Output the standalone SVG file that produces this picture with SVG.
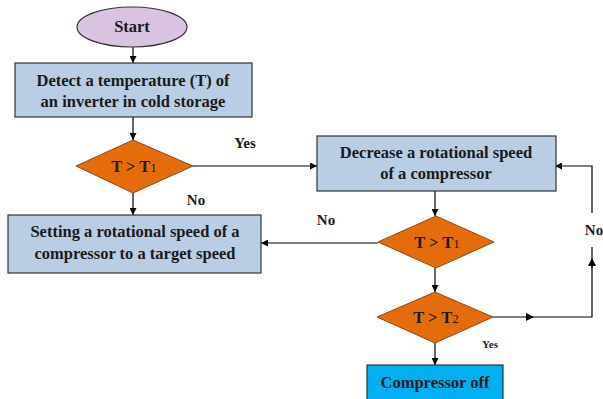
<svg xmlns="http://www.w3.org/2000/svg" width="603" height="399" viewBox="0 0 603 399">
<defs>
<marker id="ah" viewBox="0 0 10 10" refX="10" refY="5" markerWidth="7" markerHeight="7" orient="auto" markerUnits="userSpaceOnUse">
<path d="M0,0 L10,5 L0,10 z" fill="#000"/>
</marker>
<marker id="mid" viewBox="0 0 10 10" refX="5" refY="5" markerWidth="8" markerHeight="8" orient="auto" markerUnits="userSpaceOnUse">
<path d="M0,0 L10,5 L0,10 z" fill="#000"/>
</marker>
<style>
.box{fill:#b9cde5;stroke:#333;stroke-width:1.2}
.dia{fill:#e46c0a;stroke:#8a4a1a;stroke-width:1}
.t{font-family:"Liberation Serif","Times New Roman",serif;font-weight:bold;font-size:16.5px;fill:#1a1a1a;text-anchor:middle}
.lbl{font-family:"Liberation Serif","Times New Roman",serif;font-weight:bold;font-size:15px;fill:#1a1a1a;text-anchor:middle}
.sub{font-size:13px;font-weight:normal}
.c{fill:none;stroke:#000;stroke-width:1.2}
</style>
</defs>
<rect width="603" height="399" fill="#fff"/>
<g id="connectors">
<line class="c" x1="133" y1="47" x2="133" y2="63" marker-end="url(#ah)"/>
<line class="c" x1="133" y1="117" x2="133" y2="140" marker-end="url(#ah)"/>
<line class="c" x1="193" y1="166" x2="317" y2="166" marker-end="url(#ah)"/>
<line class="c" x1="133" y1="193" x2="133" y2="215" marker-end="url(#ah)"/>
<line class="c" x1="435" y1="191" x2="435" y2="216" marker-end="url(#ah)"/>
<line class="c" x1="378" y1="243" x2="261" y2="243" marker-end="url(#ah)"/>
<line class="c" x1="435" y1="268" x2="435" y2="292" marker-end="url(#ah)"/>
<line class="c" x1="435" y1="343" x2="435" y2="365" marker-end="url(#ah)"/>
<polyline class="c" points="493,317 530,317" marker-end="url(#mid)"/>
<polyline class="c" points="526,317 592,317 592,262"/>
<polyline class="c" points="592,268 592,262" marker-end="url(#mid)"/>
<line class="c" x1="592" y1="266" x2="592" y2="247"/>
<polyline class="c" points="592,213 592,166 555,166" marker-end="url(#ah)"/>
<text class="lbl" x="245" y="148">Yes</text>
<text class="lbl" x="196" y="205">No</text>
<text class="lbl" x="326" y="225">No</text>
<text class="lbl" x="594" y="235">No</text>
<text class="lbl" x="490" y="348" style="font-size:11px">Yes</text>
</g>
<g id="start">
<ellipse cx="132" cy="27" rx="55" ry="20" fill="#d9c3e0" stroke="#333" stroke-width="1.2"/>
<text class="t" x="132" y="32">Start</text>
</g>
<g id="detect">
<rect class="box" x="15" y="63" width="237" height="54"/>
<text class="t" x="133" y="86">Detect a temperature (T) of</text>
<text class="t" x="133" y="107">an inverter in cold storage</text>
</g>
<g id="dec1">
<polygon class="dia" points="133,140 193,166 133,193 76,166"/>
<text class="t" x="134" y="172">T &gt; T<tspan class="sub">1</tspan></text>
</g>
<g id="decrease">
<rect class="box" x="317" y="136" width="239" height="55"/>
<text class="t" x="436" y="158">Decrease a rotational speed</text>
<text class="t" x="436" y="179">of a compressor</text>
</g>
<g id="setting">
<rect class="box" x="8" y="215" width="253" height="58"/>
<text class="t" x="135" y="237">Setting a rotational speed of a</text>
<text class="t" x="135" y="259">compressor to a target speed</text>
</g>
<g id="dec2">
<polygon class="dia" points="436,216 494,242 436,268 378,242"/>
<text class="t" x="437" y="248">T &gt; T<tspan class="sub">1</tspan></text>
</g>
<g id="dec3">
<polygon class="dia" points="435,292 493,317 435,343 377,317"/>
<text class="t" x="436" y="323">T &gt; T<tspan class="sub">2</tspan></text>
</g>
<g id="off">
<rect x="367" y="365" width="136" height="40" fill="#00b0f0" stroke="#333" stroke-width="1.2"/>
<text class="t" x="435" y="388">Compressor off</text>
</g>
</svg>
